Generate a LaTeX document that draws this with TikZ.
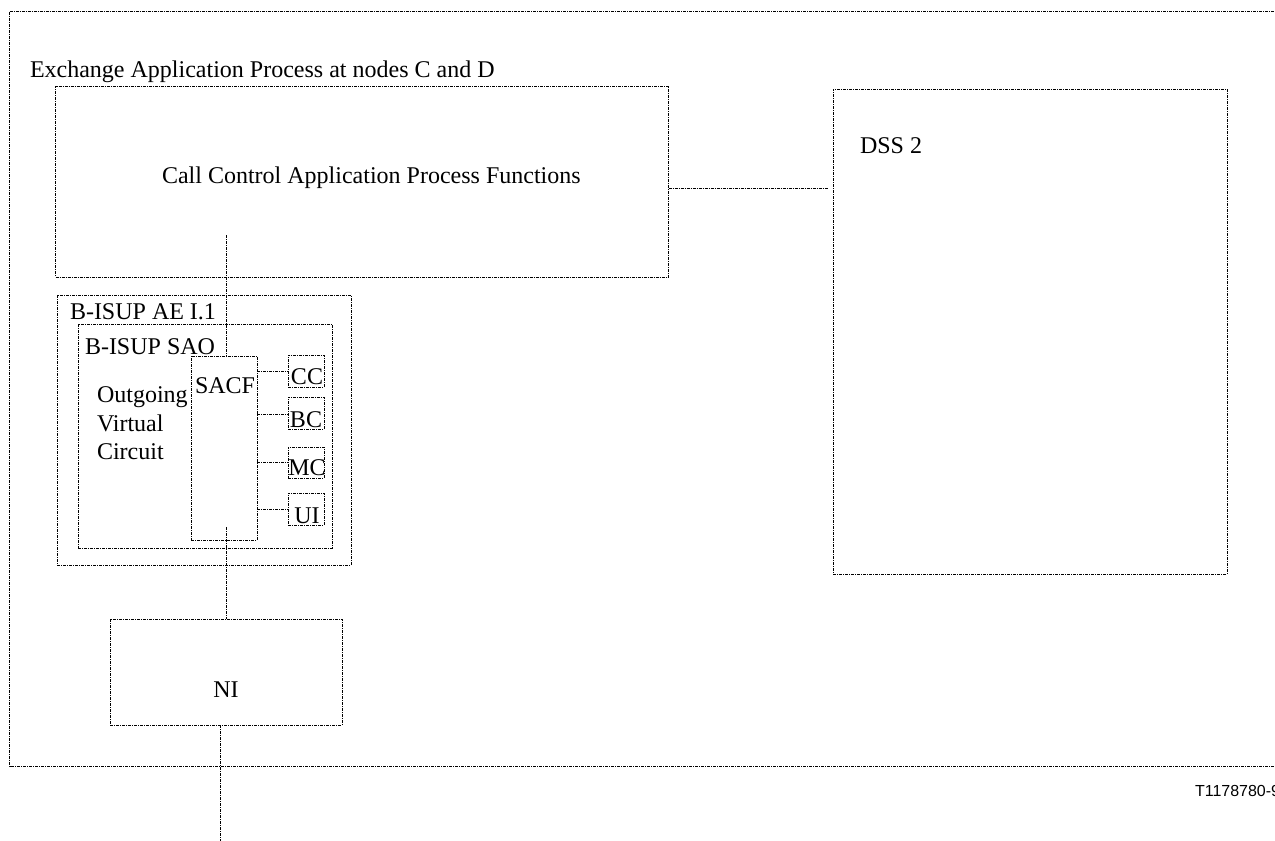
\documentclass[tikz,border=0pt]{standalone}
\usepackage{fontspec}
\setmainfont{Liberation Serif}
\newfontfamily\figsans{Liberation Sans}
\begin{document}
\begin{tikzpicture}[x=1pt,y=-1pt,
  every node/.style={inner sep=0pt, outer sep=0pt},
  dd/.style={draw=black, line width=1pt, dash pattern=on 3pt off 1pt on 1pt off 1pt},
  box/.style={dd, rectangle, anchor=north west},
  link/.style={dd},
  lbl/.style={font=\fontsize{24}{28.5}\selectfont, anchor=base west},
  tag/.style={font=\fontsize{24}{28.5}\selectfont, anchor=base}]
\clip (0,0) rectangle (1275,841);
\fill[white] (0,0) rectangle (1275,841);

% exchange frame (runs past the right edge)
\draw[dd] (9.5,11.5) rectangle (1300,766);
\node[lbl] (exlbl) at (30,77) {Exchange Application Process at nodes C and D};

% call control functions and DSS 2
\node[box, minimum width=613pt, minimum height=191pt] (ccap) at (55.5,86) {};
\node[lbl] at (162,183) {Call Control Application Process Functions};
\node[box, minimum width=394pt, minimum height=485pt] (dss) at (833,89) {};
\node[lbl] at (860,153) {DSS 2};
\draw[link, shorten >=5.5pt] (ccap.east |- 0,188) -- (dss.west |- 0,188);

% B-ISUP application entity
\node[box, minimum width=294pt, minimum height=270pt] (ae) at (57,295) {};
\node[lbl] at (70,319) {B-ISUP AE I.1};
\node[box, minimum width=254pt, minimum height=224pt] (sao) at (78,324) {};
\node[lbl] at (85,354) {B-ISUP SAO};
\node[lbl, align=left, anchor=north west, text width=100pt] (ovc) at (97,387)
  {Outgoing\\Virtual\\Circuit};
\node[box, minimum width=66pt, minimum height=184pt] (sacf) at (191,356) {};
\node[lbl] at (195,393) {SACF};

% service elements
\node[box, minimum width=36pt, minimum height=32pt] (cc) at (288,355) {};
\node[box, minimum width=36pt, minimum height=32pt] (bc) at (288,397) {};
\node[box, minimum width=36pt, minimum height=31pt] (mc) at (288,447) {};
\node[box, minimum width=36pt, minimum height=32pt] (ui) at (288,493) {};
\node[tag] at (307,384) {CC};
\node[tag] at (306,427) {BC};
\node[tag] at (307,475) {MC};
\node[tag] at (307,523) {UI};
\foreach \e/\yy in {cc/371,bc/414,mc/462,ui/509}
  \draw[link] (sacf.east |- 0,\yy) -- (\e.west |- 0,\yy);

% network interface
\node[box, minimum width=232pt, minimum height=106pt] (ni) at (110,619) {};
\node[tag] at (226,697) {NI};

% vertical connectors
\coordinate (ccapout) at (226,235);
\draw[link] (ccapout) -- (ccapout |- sacf.north);
\coordinate (sacfout) at (226,527);
\draw[link] (sacfout) -- (sacfout |- ni.north);
\coordinate (niout) at (220,841);
\draw[link] (niout |- ni.south) -- (niout);

% figure reference
\node[font=\figsans\fontsize{16}{19}\selectfont, anchor=base west] (ref) at (1195,796) {T1178780-9};
\end{tikzpicture}
\end{document}
